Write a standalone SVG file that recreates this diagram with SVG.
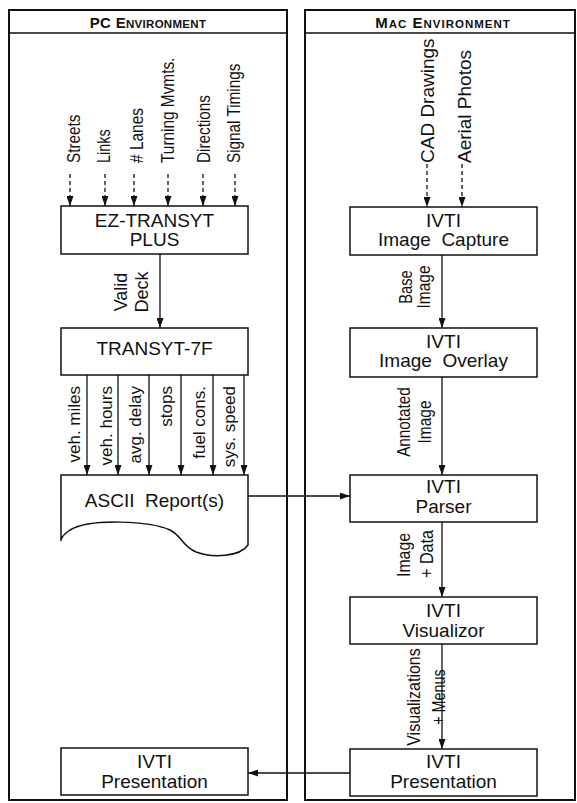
<svg xmlns="http://www.w3.org/2000/svg" width="577" height="803" viewBox="0 0 577 803">
<style>
text{font-family:"Liberation Sans",Arial,Helvetica,sans-serif;fill:#111}
.panel{fill:none;stroke:#111;stroke-width:2}
.box{fill:#fff;stroke:#111;stroke-width:1.5}
.bt{font-size:19px;text-anchor:middle}
.hd{font-weight:bold;text-anchor:middle}
.big{font-size:15px}
.sm{font-size:11.5px}
.lbl{font-size:18px}
.mid{text-anchor:middle}
.out{font-size:17px;text-anchor:end}
.con{fill:none;stroke:#111;stroke-width:1.3}
.dash{stroke-dasharray:4,3}
</style>
<defs>
<marker id="ah" markerUnits="userSpaceOnUse" markerWidth="10" markerHeight="7" refX="10" refY="3.5" orient="auto">
<path d="M0,0 L10,3.5 L0,7 z" fill="#111"/>
</marker>
</defs>

<g id="pc-panel">
<rect class="panel" x="9" y="10" width="278" height="790"/>
<line x1="9" y1="33" x2="287" y2="33" stroke="#111" stroke-width="1.5"/>
<text class="hd" x="148" y="28" letter-spacing="0.3"><tspan class="big">PC E</tspan><tspan class="sm">NVIRONMENT</tspan></text>
</g>
<g id="mac-panel">
<rect class="panel" x="305" y="10" width="270" height="790"/>
<line x1="305" y1="33" x2="575" y2="33" stroke="#111" stroke-width="1.5"/>
<text class="hd" x="443" y="28" letter-spacing="1"><tspan class="big">M</tspan><tspan class="sm">AC</tspan><tspan class="big"> E</tspan><tspan class="sm">NVIRONMENT</tspan></text>
</g>

<g id="ez-transyt">
<rect class="box" x="61" y="206" width="187" height="48"/>
<text class="bt" x="154.5" y="227">EZ-TRANSYT</text>
<text class="bt" x="154.5" y="246">PLUS</text>
</g>
<g id="transyt-7f">
<rect class="box" x="61" y="328" width="187" height="47"/>
<text class="bt" x="154.5" y="355">TRANSYT-7F</text>
</g>
<g id="ascii-report">
<path class="box" d="M61,475 H248 V545 C240,557 212,558 196,552 C182,546 182,536 170,530 C150,521 90,518 70,530 C64,534 61,538 61,541 Z"/>
<text class="bt" x="154.5" y="507" xml:space="preserve">ASCII  Report(s)</text>
</g>
<g id="pc-presentation">
<rect class="box" x="61" y="748" width="187" height="47"/>
<text class="bt" x="154.5" y="768">IVTI</text>
<text class="bt" x="154.5" y="788">Presentation</text>
</g>

<g id="image-capture">
<rect class="box" x="350" y="207" width="187" height="48"/>
<text class="bt" x="443.5" y="227">IVTI</text>
<text class="bt" x="443.5" y="246" xml:space="preserve">Image  Capture</text>
</g>
<g id="image-overlay">
<rect class="box" x="350" y="328" width="187" height="49"/>
<text class="bt" x="443.5" y="348">IVTI</text>
<text class="bt" x="443.5" y="367" xml:space="preserve">Image  Overlay</text>
</g>
<g id="parser">
<rect class="box" x="350" y="475" width="187" height="47"/>
<text class="bt" x="443.5" y="493">IVTI</text>
<text class="bt" x="443.5" y="513">Parser</text>
</g>
<g id="visualizor">
<rect class="box" x="350" y="597" width="187" height="47"/>
<text class="bt" x="443.5" y="617">IVTI</text>
<text class="bt" x="443.5" y="637">Visualizor</text>
</g>
<g id="mac-presentation">
<rect class="box" x="350" y="749" width="187" height="47"/>
<text class="bt" x="443.5" y="768">IVTI</text>
<text class="bt" x="443.5" y="788">Presentation</text>
</g>

<g id="connectors">
<line class="con dash" x1="70" y1="174" x2="70" y2="206" marker-end="url(#ah)"/>
<line class="con dash" x1="105" y1="174" x2="105" y2="206" marker-end="url(#ah)"/>
<line class="con dash" x1="134" y1="174" x2="134" y2="206" marker-end="url(#ah)"/>
<line class="con dash" x1="168" y1="174" x2="168" y2="206" marker-end="url(#ah)"/>
<line class="con dash" x1="203" y1="174" x2="203" y2="206" marker-end="url(#ah)"/>
<line class="con dash" x1="235" y1="174" x2="235" y2="206" marker-end="url(#ah)"/>
<text class="lbl" transform="translate(80,163) rotate(-90) scale(0.85,1)">Streets</text>
<text class="lbl" transform="translate(110,163) rotate(-90) scale(0.8,1)">Links</text>
<text class="lbl" transform="translate(143,163) rotate(-90) scale(0.86,1)"># Lanes</text>
<text class="lbl" transform="translate(174,163) rotate(-90) scale(0.855,1)">Turning Mvmts.</text>
<text class="lbl" transform="translate(210,163) rotate(-90) scale(0.85,1)">Directions</text>
<text class="lbl" transform="translate(240,163) rotate(-90) scale(0.85,1)">Signal Timings</text>

<line class="con" x1="160" y1="254" x2="160" y2="328" marker-end="url(#ah)"/>
<text class="lbl mid" transform="translate(127,292) rotate(-90)">Valid</text>
<text class="lbl mid" transform="translate(148,292) rotate(-90)">Deck</text>

<line class="con" x1="87" y1="375" x2="87" y2="475" marker-end="url(#ah)"/>
<line class="con" x1="118" y1="375" x2="118" y2="475" marker-end="url(#ah)"/>
<line class="con" x1="149" y1="375" x2="149" y2="475" marker-end="url(#ah)"/>
<line class="con" x1="181" y1="375" x2="181" y2="475" marker-end="url(#ah)"/>
<line class="con" x1="213" y1="375" x2="213" y2="475" marker-end="url(#ah)"/>
<line class="con" x1="244" y1="375" x2="244" y2="475" marker-end="url(#ah)"/>
<text class="out" transform="translate(80,386) rotate(-90)">veh. miles</text>
<text class="out" transform="translate(112,386) rotate(-90)">veh. hours</text>
<text class="out" transform="translate(141,386) rotate(-90)">avg. delay</text>
<text class="out" transform="translate(172,386) rotate(-90)">stops</text>
<text class="out" transform="translate(205,386) rotate(-90)">fuel cons.</text>
<text class="out" transform="translate(235,386) rotate(-90)">sys. speed</text>

<line class="con" x1="248" y1="496" x2="350" y2="496" marker-end="url(#ah)"/>

<line class="con dash" x1="427" y1="164" x2="427" y2="207" marker-end="url(#ah)"/>
<line class="con dash" x1="462" y1="164" x2="462" y2="207" marker-end="url(#ah)"/>
<text class="bt" style="text-anchor:start" transform="translate(434,163) rotate(-90)">CAD Drawings</text>
<text class="bt" style="text-anchor:start" transform="translate(471,163) rotate(-90)">Aerial Photos</text>

<line class="con" x1="442" y1="255" x2="442" y2="328" marker-end="url(#ah)"/>
<text class="lbl mid" transform="translate(412,287) rotate(-90) scale(0.82,1)">Base</text>
<text class="lbl mid" transform="translate(430,287) rotate(-90) scale(0.86,1)">Image</text>

<line class="con" x1="442" y1="377" x2="442" y2="475" marker-end="url(#ah)"/>
<text class="lbl mid" transform="translate(410,422) rotate(-90) scale(0.85,1)">Annotated</text>
<text class="lbl mid" transform="translate(431,422) rotate(-90) scale(0.86,1)">Image</text>

<line class="con" x1="442" y1="522" x2="442" y2="597" marker-end="url(#ah)"/>
<text class="lbl mid" transform="translate(410,555) rotate(-90) scale(0.88,1)">Image</text>
<text class="lbl mid" transform="translate(433,554) rotate(-90) scale(0.9,1)">+ Data</text>

<line class="con" x1="442" y1="644" x2="442" y2="749" marker-end="url(#ah)"/>
<text class="lbl mid" transform="translate(420,697) rotate(-90) scale(0.89,1)">Visualizations</text>
<text class="lbl mid" transform="translate(445,697) rotate(-90) scale(0.8,1)">+ Menus</text>

<line class="con" x1="350" y1="773" x2="248" y2="773" marker-end="url(#ah)"/>
</g>
</svg>
